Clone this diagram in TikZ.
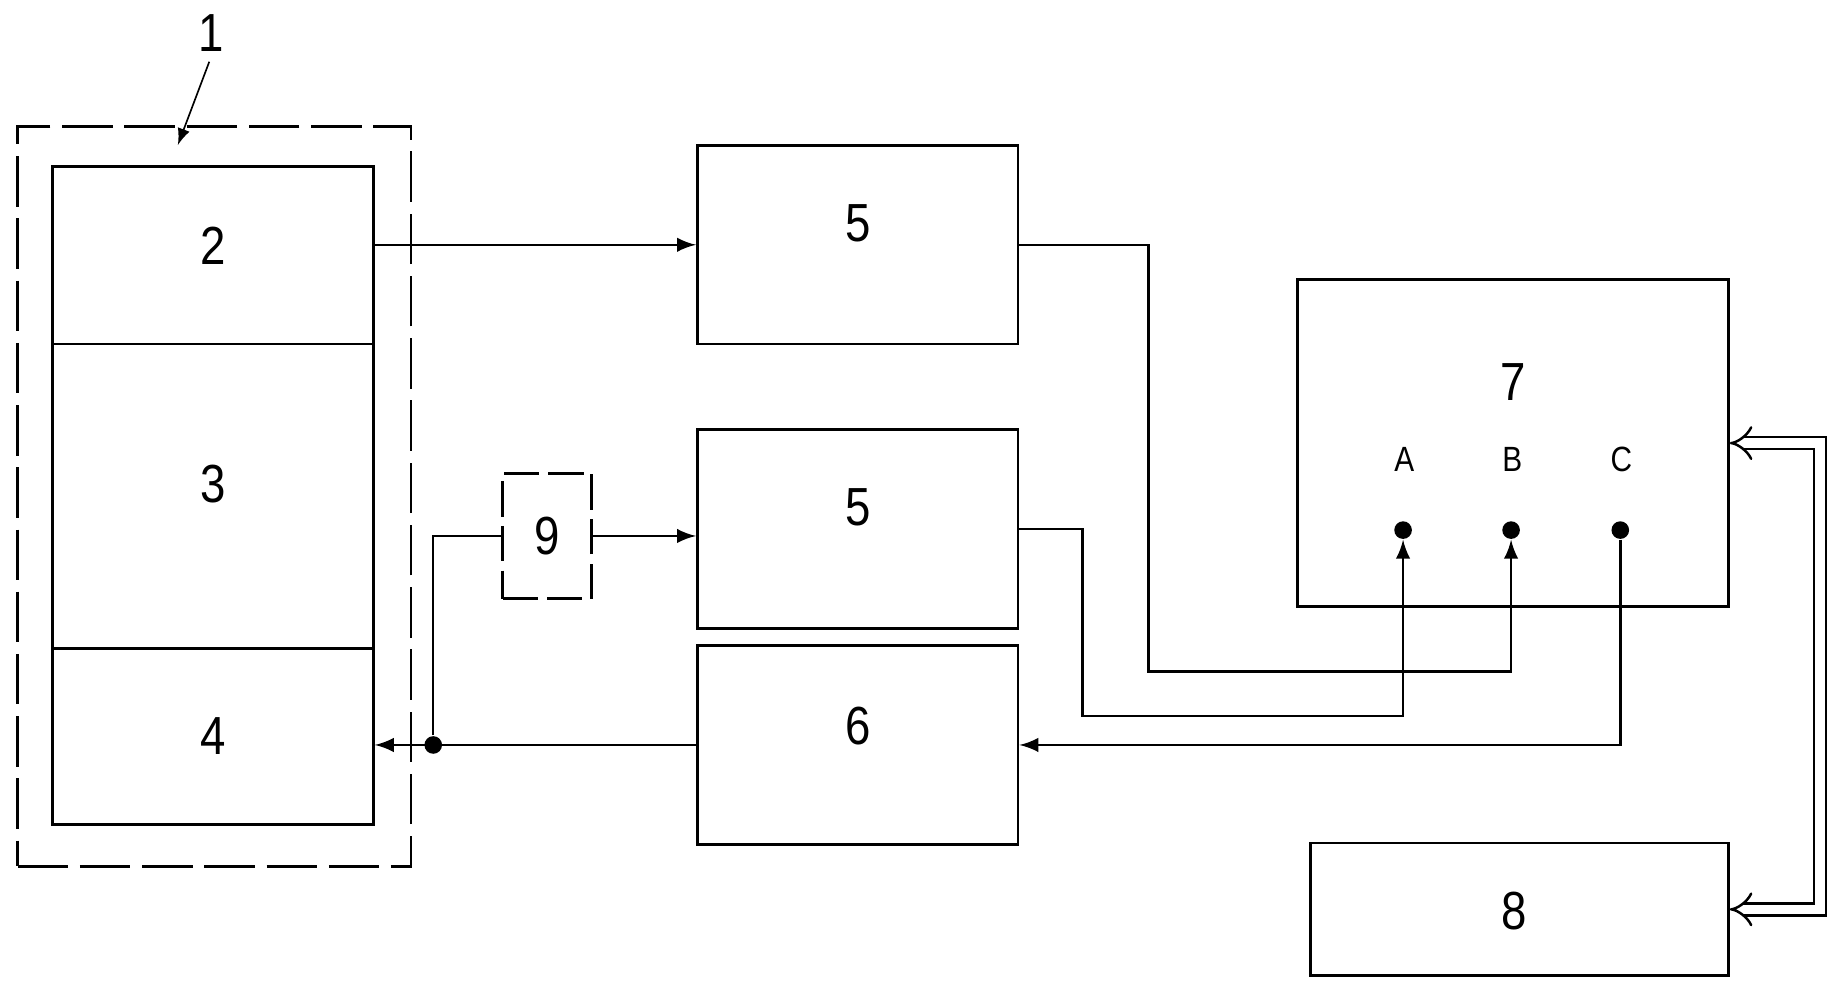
\documentclass[tikz,border=0pt]{standalone}
\usepackage{fontspec}
\setmainfont{Liberation Sans}[FakeStretch=0.85]
\usepackage{tikz}
\usetikzlibrary{calc}
\usetikzlibrary{arrows}
\usetikzlibrary{arrows.meta}
\usetikzlibrary{positioning}

\tikzset{
  box/.style={rectangle, draw=black, line width=0.7pt, inner sep=0pt},
  num/.style={font=\fontsize{13}{15}\selectfont, inner sep=1pt},
  pinlbl/.style={font=\fontsize{8.5}{10}\selectfont, inner sep=1pt},
  dot/.style={circle, fill=black, inner sep=0pt, minimum size=0.15cm},
  wire/.style={line width=0.6pt},
}

\begin{document}
\begin{tikzpicture}
\useasboundingbox (0,0) rectangle (15.68,-8.44);

% unit 1 with its three parts
\node [box, dash pattern=on 0.43cm off 0.1cm, minimum width=3.35cm, minimum height=6.30cm] (grp) at (1.825,-4.23) {};
\node [box, minimum width=2.73cm, minimum height=1.51cm, label={[num, yshift=0.08cm]center:2}] (two) at (1.815,-2.175) {};
\node [box, minimum width=2.73cm, minimum height=2.59cm, label={[num, yshift=0.1cm]center:3}] (three) at (1.815,-4.225) {};
\node [box, minimum width=2.73cm, minimum height=1.50cm, label={[num]center:4}] (four) at (1.815,-6.27) {};
\node [num] (one) at (1.80,-0.28) {1};
\coordinate (grptip) at (1.515,-1.235);
\draw [-latex, line width=0.4pt, shorten <=0.05cm] (one.south) to (grptip);

% middle column
\node [box, minimum width=2.73cm, minimum height=1.69cm, label={[num, yshift=0.18cm]center:5}] (fiveA) at (7.305,-2.085) {};
\node [box, minimum width=2.73cm, minimum height=1.69cm, label={[num, yshift=0.18cm]center:5}] (fiveB) at (7.305,-4.505) {};
\node [box, minimum width=2.73cm, minimum height=1.69cm, label={[num, yshift=0.16cm]center:6}] (six) at (7.305,-6.345) {};
\node [box, dash pattern=on 0.3cm off 0.08cm, minimum width=0.76cm, minimum height=1.07cm] (nine) at (4.66,-4.565) {};
\node [num] (ninelbl) at (nine.center) {9};

% unit 7 and unit 8
\node [box, minimum width=3.67cm, minimum height=2.787cm, label={[num, yshift=0.52cm]center:7}] (seven) at (12.885,-3.774) {};
\node [pinlbl] (lblA) at (11.96,-3.91) {A};
\node [pinlbl] (lblB) at (12.88,-3.91) {B};
\node [pinlbl] (lblC) at (13.81,-3.91) {C};
\node [dot] (dotA) at (11.95,-4.515) {};
\node [dot] (dotB) at (12.87,-4.515) {};
\node [dot] (dotC) at (13.80,-4.515) {};
\node [box, minimum width=3.56cm, minimum height=1.13cm] (eight) at (12.94,-7.745) {};
\node [num] (eightlbl) at (12.90,-7.76) {8};

% connectors
\draw [wire, -latex] (fiveA.west -| two.east) to (fiveA.west);
\coordinate (jn) at (3.69,-6.345);
\node [dot] (junc) at (jn) {};
\draw [wire, -latex] (six.west) to (six.west -| four.east);
\draw [wire] (junc) |- (nine.west);
\draw [wire, -latex] (nine.east) to (nine.east -| fiveB.west);
\coordinate (kB) at (9.78,-5.72);
\coordinate (kA) at (9.22,-6.10);
\draw [wire, -latex] (fiveA.east) -| (kB) -| (dotB.south);
\draw [wire, -latex] (fiveB.east) -| (kA) -| (dotA.south);
\draw [wire, -latex] (dotC) |- (six.east);
\coordinate (bus) at (15.50,-5.8);
\draw [line width=0.6pt, double distance=0.08cm, {Implies[length=0.16cm, width=0.3cm]}-{Implies[length=0.16cm, width=0.3cm]}] (seven.east) -| (bus) |- (eight.east);
\end{tikzpicture}
\end{document}
